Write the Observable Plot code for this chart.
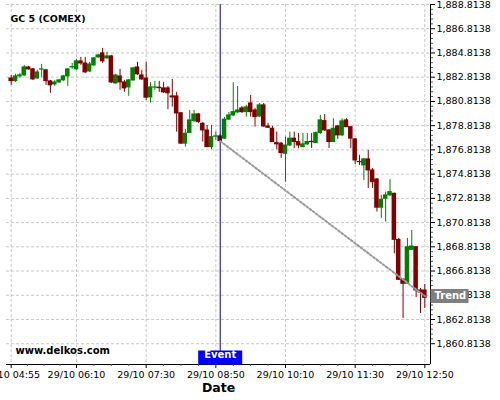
<!DOCTYPE html>
<html><head><meta charset="utf-8">
<script src="https://cdn.jsdelivr.net/npm/d3@7"></script>
<script src="https://cdn.jsdelivr.net/npm/@observablehq/plot@0.6"></script>
<style>
body{margin:0;background:#fff;}
#chart{width:500px;height:400px;}
</style></head><body><div id="chart"></div>
<script>
const title = "GC 5 (COMEX)";
const watermark = "www.delkos.com";
const xAxisTitle = "Date";
const datePrefix = "29/10 ";

const times = [
"04:55","05:00","05:05","05:10","05:15","05:20","05:25","05:30","05:35","05:40","05:45","05:50","05:55",
"06:00","06:05","06:10","06:15","06:20","06:25","06:30","06:35","06:40","06:45","06:50","06:55",
"07:00","07:05","07:10","07:15","07:20","07:25","07:30","07:35","07:40","07:45","07:50","07:55",
"08:00","08:05","08:10","08:15","08:20","08:25","08:30","08:35","08:40","08:45","08:50","08:55",
"09:00","09:05","09:10","09:15","09:20","09:25","09:30","09:35","09:40","09:45","09:50","09:55",
"10:00","10:05","10:10","10:15","10:20","10:25","10:30","10:35","10:40","10:45","10:50","10:55",
"11:00","11:05","11:10","11:15","11:20","11:25","11:30","11:35","11:40","11:45","11:50","11:55",
"12:00","12:05","12:10","12:15","12:20","12:25","12:30","12:35","12:40","12:45","12:50"];

const open = [
1882.71,1882.49,1882.88,1882.96,1883.62,1883.46,1882.71,1883.44,1883.38,1882.47,
1882.22,1882.38,1882.55,1882.88,1883.62,1883.46,1884.12,1883.95,1883.29,1883.79,
1884.45,1884.78,1884.37,1884.53,1882.30,1882.88,1882.38,1881.97,1882.55,1883.62,
1882.96,1882.71,1881.14,1881.95,1881.95,1881.89,1881.89,1881.23,1881.23,1879.84,
1877.33,1878.20,1879.20,1879.74,1878.97,1878.42,1877.04,1877.90,1877.93,1877.74,
1879.31,1879.66,1879.90,1880.24,1879.93,1880.65,1880.07,1879.57,1880.49,1878.75,
1878.56,1877.37,1877.33,1876.49,1877.18,1877.74,1877.46,1877.04,1877.27,1877.48,
1877.37,1878.20,1879.19,1878.42,1877.46,1878.75,1878.01,1879.25,1878.69,1877.68,
1875.82,1875.53,1876.03,1875.12,1874.37,1872.04,1872.78,1873.06,1873.19,1869.39,
1866.09,1865.76,1868.56,1868.78,1865.21,1865.21];

const high = [
1882.96,1883.05,1883.13,1883.79,1883.71,1883.54,1883.38,1883.87,1883.46,1882.55,
1882.55,1882.63,1882.96,1883.54,1883.95,1884.28,1884.45,1884.45,1884.04,1884.45,
1884.70,1885.19,1884.86,1884.61,1883.05,1883.46,1882.55,1882.63,1883.62,1884.04,
1883.38,1884.04,1882.38,1882.47,1882.47,1882.38,1882.05,1882.63,1881.56,1879.90,
1878.50,1880.07,1880.07,1879.82,1879.08,1878.83,1878.83,1878.28,1878.09,1879.49,
1879.90,1882.36,1882.05,1880.40,1880.49,1881.31,1880.24,1880.65,1880.65,1879.00,
1878.75,1878.28,1877.43,1877.87,1878.28,1878.28,1878.17,1878.17,1878.17,1878.17,
1878.28,1879.66,1879.74,1878.50,1879.38,1878.83,1879.38,1879.38,1878.75,1877.76,
1876.36,1876.11,1876.77,1875.28,1874.45,1873.06,1873.33,1874.35,1873.24,1869.50,
1866.20,1869.50,1870.16,1868.84,1865.38,1865.70];

const low = [
1882.14,1882.38,1882.72,1882.88,1883.38,1882.55,1882.63,1882.80,1882.14,1881.48,
1882.05,1882.30,1882.47,1882.05,1883.46,1883.38,1883.79,1883.13,1883.21,1883.71,
1884.37,1883.95,1884.28,1882.30,1882.22,1881.73,1881.56,1881.23,1882.47,1882.96,
1882.55,1880.90,1880.68,1881.73,1881.56,1881.48,1880.13,1880.35,1878.28,1877.27,
1877.05,1878.17,1879.08,1879.00,1877.46,1877.02,1876.83,1877.60,1877.43,1877.68,
1879.25,1879.57,1879.82,1879.82,1879.52,1879.52,1878.69,1879.49,1878.67,1878.58,
1877.43,1876.83,1876.11,1874.15,1877.10,1876.91,1876.91,1877.02,1877.18,1876.93,
1877.35,1878.09,1878.34,1876.93,1877.43,1877.68,1877.93,1878.67,1876.91,1875.61,
1875.53,1874.29,1873.63,1873.63,1871.68,1871.16,1870.85,1872.97,1868.24,1866.04,
1862.90,1865.70,1868.51,1864.63,1863.31,1863.72];

const close = [
1882.49,1882.88,1882.96,1883.62,1883.46,1882.63,1883.21,1883.46,1882.49,1882.14,
1882.38,1882.55,1882.88,1883.46,1883.65,1884.12,1883.95,1883.21,1883.87,1884.37,
1884.61,1884.12,1884.53,1882.38,1882.96,1882.38,1881.89,1882.55,1883.54,1883.05,
1882.63,1881.12,1881.97,1881.97,1881.91,1881.56,1881.48,1881.14,1879.82,1877.33,
1878.15,1879.25,1879.74,1879.11,1878.42,1877.04,1877.87,1877.93,1877.54,1879.31,
1879.66,1879.93,1880.07,1879.93,1880.32,1879.93,1879.52,1880.49,1878.75,1878.64,
1877.46,1877.27,1876.55,1877.18,1877.74,1877.46,1877.18,1877.27,1877.46,1877.45,
1878.20,1879.25,1878.42,1877.46,1878.56,1878.01,1879.17,1878.69,1877.74,1875.94,
1875.80,1876.03,1875.12,1874.15,1872.04,1872.70,1873.06,1873.33,1869.39,1866.09,
1865.76,1868.78,1868.84,1865.21,1865.04,1864.60];

const xTickLabels = ["04:55","06:10","07:30","08:50","10:10","11:30","12:50"];
const yTicks = [1860.8138,1862.8138,1864.8138,1866.8138,1868.8138,1870.8138,1872.8138,
  1874.8138,1876.8138,1878.8138,1880.8138,1882.8138,1884.8138,1886.8138,1888.8138];

const eventTime = "08:55";
const eventLabel = "Event";
const trendTimes = ["08:55","12:50"];
const trendValues = [1877.54, 1864.75];
const trendLabel = "Trend";

// ---- build ----
const toDate = s => { const [h, m] = s.split(":").map(Number); return new Date(Date.UTC(2023, 9, 29, h, m)); };
const candles = times.map((t, i) => ({date: toDate(t), open: open[i], high: high[i], low: low[i], close: close[i]}));
const ups = candles.filter(d => d.close >= d.open);
const downs = candles.filter(d => d.close < d.open);
const trend = trendTimes.map((t, i) => ({date: toDate(t), value: trendValues[i]}));
const eventDate = toDate(eventTime);

const xMajor = xTickLabels.map(toDate);
const xMinor = [];
for (let k = 0; k < xMajor.length - 1; k++) {
  const a = +xMajor[k], b = +xMajor[k + 1];
  for (let q = 1; q < 4; q++) xMinor.push(new Date(a + (b - a) * q / 4));
}
const yMinor = [];
for (let k = 0; k < yTicks.length - 1; k++)
  for (let q = 1; q < 5; q++) yMinor.push(yTicks[k] + (yTicks[k + 1] - yTicks[k]) * q / 5);

const xLeft = new Date(+toDate("04:49") + 36000);
const xRight = new Date(+toDate("12:56") + 30000);
const yMin = 1859.1, yMax = 1888.8138;
const half = 2.6 * 60000;
const UP = "#008000", DOWN = "#800000";
const GRID = "#c8c8c8";

const boxEvent = {draw(ctx) { ctx.moveTo(-22, -7); ctx.lineTo(22, -7); ctx.lineTo(22, 7); ctx.lineTo(-22, 7); ctx.closePath(); }};
const boxTrend = {draw(ctx) { ctx.moveTo(0, -7); ctx.lineTo(38, -7); ctx.lineTo(38, 7); ctx.lineTo(0, 7); ctx.closePath(); }};

const body = (data, color) => Plot.rect(data, {
  x1: d => new Date(+d.date - half), x2: d => new Date(+d.date + half),
  y1: "open", y2: "close", fill: color, insetTop: -0.5, insetBottom: -0.5
});
const wick = (data, color) => Plot.ruleX(data, {x: "date", y1: "low", y2: "high", stroke: color, strokeWidth: 1});

const chart = Plot.plot({
  width: 500, height: 400,
  marginLeft: 6, marginRight: 70, marginTop: 4, marginBottom: 36,
  style: {fontFamily: "'DejaVu Sans', sans-serif", fontSize: "9.5px", color: "#000", background: "#fff"},
  x: {type: "utc", domain: [xLeft, xRight], axis: null, label: null},
  y: {domain: [yMin, yMax], axis: null, label: null},
  marks: [
    Plot.ruleY(yTicks, {stroke: GRID, strokeDasharray: "3,2"}),
    Plot.ruleX(xMajor, {stroke: GRID, strokeDasharray: "3,2"}),
    wick(ups, UP), wick(downs, DOWN),
    body(ups, UP), body(downs, DOWN),
    Plot.ruleX([eventDate], {stroke: "#000090", strokeWidth: 1}),
    Plot.line(trend, {x: "date", y: "value", stroke: "#999", strokeWidth: 2, strokeDasharray: "2,2"}),
    Plot.ruleY([yMin], {stroke: "#000"}),
    Plot.ruleX([xRight], {stroke: "#000"}),
    Plot.axisY(yTicks, {anchor: "right", tickSize: 4, tickPadding: 2, tickFormat: d3.format(",.4f"), fontSize: 9.5, label: null}),
    Plot.axisY(yMinor, {anchor: "right", tickSize: 2, tickFormat: () => "", label: null, stroke: "#555"}),
    Plot.axisX(xMajor, {anchor: "bottom", tickSize: 4, tickPadding: 3, tickFormat: d => datePrefix + d3.utcFormat("%H:%M")(d), fontSize: 9.5, label: null}),
    Plot.axisX(xMinor, {anchor: "bottom", tickSize: 2, tickFormat: () => "", label: null, stroke: "#555"}),
    Plot.text([title], {frameAnchor: "top-left", dx: 4, dy: 11, textAnchor: "start", fontWeight: "bold", fontSize: 9.5, fill: "#000"}),
    Plot.text([watermark], {frameAnchor: "bottom-left", dx: 9, dy: -10.5, textAnchor: "start", fontWeight: "bold", fontSize: 10, fill: "#000"}),
    Plot.text([xAxisTitle], {frameAnchor: "bottom", dy: 27, fontWeight: "bold", fontSize: 12.5, fill: "#000"}),
    Plot.dot([eventDate], {x: d => d, frameAnchor: "bottom", dy: -7, symbol: boxEvent, fill: "#0000ff", stroke: null, r: 3}),
    Plot.text([eventLabel], {x: () => eventDate, frameAnchor: "bottom", dy: -7, fill: "#fff", fontWeight: "bold", fontSize: 10}),
    Plot.dot([trendValues[trendValues.length - 1]], {y: d => d, frameAnchor: "right", symbol: boxTrend, fill: "#808080", stroke: null, r: 3}),
    Plot.text([trendLabel], {y: () => trendValues[trendValues.length - 1], frameAnchor: "right", dx: 4, textAnchor: "start", fill: "#fff", fontWeight: "bold", fontSize: 10})
  ]
});
document.getElementById("chart").append(chart);
</script>
</body></html>
